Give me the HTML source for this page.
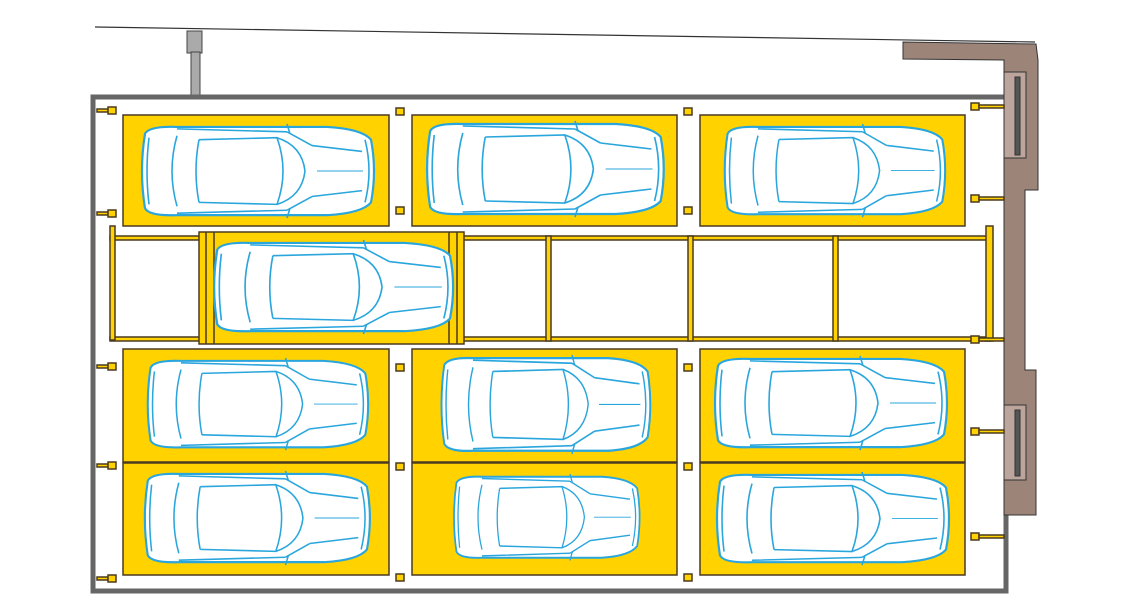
<!DOCTYPE html>
<html><head><style>html,body{margin:0;padding:0;background:#fff}svg{display:block}</style></head>
<body>
<svg width="1129" height="596" viewBox="0 0 1129 596" xmlns="http://www.w3.org/2000/svg">
<defs>
<g id="car" fill="none" stroke="#2aa6dd" stroke-width="1.6">
<path d="M8,10 Q12,2 40,3 L190,3 Q225,5 234,16 Q240,48 234,80 Q225,91 190,93 L40,93 Q12,94 8,86 Q2,48 8,10 Z" fill="#fff" stroke-width="2.2"/>
<path d="M12,14 Q8,48 12,82"/>
<path d="M40,12 Q30,48 40,84"/>
<path d="M62,16 Q56,48 62,80"/>
<path d="M62,16 L140,14 Q152,48 140,82 L62,80"/>
<path d="M140,14 Q165,22 168,48 Q165,74 140,82"/>
<path d="M150,8 L175,22 M150,88 L175,74"/>
<path d="M175,22 L225,28 M175,74 L225,68"/>
<path d="M180,48 L226,48" stroke-width="1"/>
<path d="M40,5 L150,8 M40,91 L150,88"/>
<path d="M150,0 L153,10 M150,96 L153,86"/>
<path d="M228,16 Q236,48 228,80"/>
</g>
</defs>
<!-- top line and pillar -->
<line x1="95" y1="27" x2="1035" y2="42" stroke="#333" stroke-width="1.2"/>
<rect x="187" y="31" width="15" height="22" fill="#aaa" stroke="#444"/>
<rect x="191" y="52" width="9" height="45" fill="#aaa" stroke="#444"/>
<!-- frame -->
<rect x="93" y="97" width="913" height="494" fill="#fff" stroke="#666" stroke-width="5"/>
<!-- right wall -->
<g stroke="#333" stroke-width="1">
<path d="M903,42 L1036,44 L1038,60 L1038,190 L1025,190 L1025,370 L1036,370 L1036,515 L1004,515 L1004,60 L903,59 Z" fill="#9c8479"/>
<rect x="1004" y="72" width="22" height="86" fill="#bba59c"/>
<rect x="1015" y="77" width="5" height="78" fill="#555"/>
<rect x="1004" y="405" width="22" height="75" fill="#bba59c"/>
<rect x="1015" y="410" width="5" height="66" fill="#555"/>
</g>
<g fill="#ffd200" stroke="#4a3a20" stroke-width="1.5">
<!-- slots -->
<rect x="123" y="115" width="266" height="111"/>
<rect x="412" y="115" width="265" height="111"/>
<rect x="700" y="115" width="265" height="111"/>
<rect x="123" y="349" width="266" height="113"/>
<rect x="412" y="349" width="265" height="113"/>
<rect x="700" y="349" width="265" height="113"/>
<rect x="123" y="463" width="266" height="112"/>
<rect x="412" y="463" width="265" height="112"/>
<rect x="700" y="463" width="265" height="112"/>
<!-- conveyor -->
<rect x="110" y="236" width="880" height="4"/>
<rect x="110" y="337" width="880" height="4"/>
<rect x="110" y="226" width="5" height="114"/>
<rect x="546" y="236" width="5" height="105"/>
<rect x="688" y="236" width="5" height="105"/>
<rect x="833" y="236" width="5" height="105"/>
<rect x="986" y="226" width="7" height="115"/>
<rect x="199" y="232" width="265" height="112"/>
<line x1="206" y1="232" x2="206" y2="344"/><line x1="214" y1="232" x2="214" y2="344"/>
<line x1="449" y1="232" x2="449" y2="344"/><line x1="457" y1="232" x2="457" y2="344"/>
<!-- small squares -->
<rect x="396" y="108" width="8" height="7"/><rect x="396" y="207" width="8" height="7"/>
<rect x="396" y="364" width="8" height="7"/><rect x="396" y="463" width="8" height="7"/><rect x="396" y="574" width="8" height="7"/>
<rect x="684" y="108" width="8" height="7"/><rect x="684" y="207" width="8" height="7"/>
<rect x="684" y="364" width="8" height="7"/><rect x="684" y="463" width="8" height="7"/><rect x="684" y="574" width="8" height="7"/>
<!-- left brackets -->
<rect x="97" y="109" width="11" height="3"/><rect x="108" y="107" width="8" height="7"/>
<rect x="97" y="212" width="11" height="3"/><rect x="108" y="210" width="8" height="7"/>
<rect x="97" y="365" width="11" height="3"/><rect x="108" y="363" width="8" height="7"/>
<rect x="97" y="464" width="11" height="3"/><rect x="108" y="462" width="8" height="7"/>
<rect x="97" y="577" width="11" height="3"/><rect x="108" y="575" width="8" height="7"/>
<!-- right brackets -->
<rect x="971" y="103" width="8" height="7"/><rect x="979" y="105" width="25" height="3"/>
<rect x="971" y="195" width="8" height="7"/><rect x="979" y="197" width="25" height="3"/>
<rect x="971" y="336" width="8" height="7"/><rect x="979" y="338" width="25" height="3"/>
<rect x="971" y="428" width="8" height="7"/><rect x="979" y="430" width="25" height="3"/>
<rect x="971" y="533" width="8" height="7"/><rect x="979" y="535" width="25" height="3"/>
</g>
<!-- cars -->
<use href="#car" transform="translate(137,124) scale(1,0.98)"/>
<use href="#car" transform="translate(422,121) scale(1.02,1)"/>
<use href="#car" transform="translate(720,124) scale(0.95,0.97)"/>
<use href="#car" transform="translate(209,240) scale(1.03,0.98)"/>
<use href="#car" transform="translate(143,358) scale(0.95,0.96)"/>
<use href="#car" transform="translate(437,355) scale(0.9,1.03)"/>
<use href="#car" transform="translate(710,356) scale(1.0,0.98)"/>
<use href="#car" transform="translate(140,471) scale(0.97,0.98)"/>
<use href="#car" transform="translate(450,474) scale(0.8,0.9)"/>
<use href="#car" transform="translate(712,472) scale(1.0,0.97)"/>
</svg>
</body></html>
